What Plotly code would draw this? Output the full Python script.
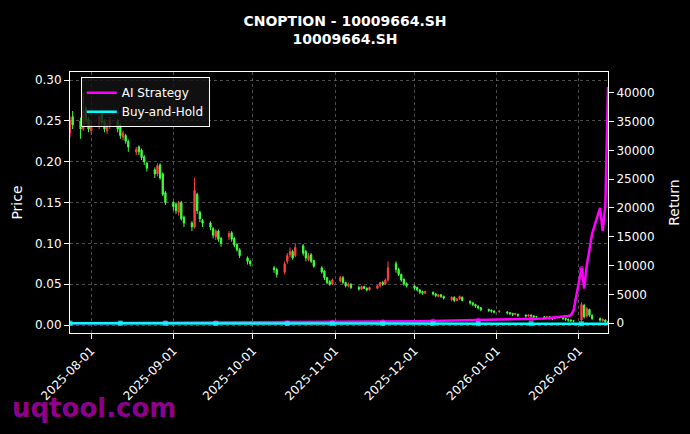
import pandas as pd
import plotly.graph_objects as go

open_ = [0.235,0.255,
 0.250,0.240,0.265,0.252,0.238, 0.245,0.258,0.250,0.238,0.243, 0.250,0.245,0.230,0.232,0.225,
 0.212,0.218,0.214,0.206,0.198, 0.190,0.185,0.196,0.185,0.162, 0.150,0.148,0.138,0.150,0.132,
 0.125,0.120,0.160,0.138,0.128, 0.125,0.118,0.108,0.115,0.106, 0.108,0.113,0.106,0.099,0.092,
 0.082,0.078, 0.070,0.068,
 0.065,0.078,0.086,0.090,0.085, 0.097,0.090,0.080,0.086,0.079, 0.070,0.066,0.058,0.053,0.050,
 0.054,0.058,0.052,0.048,0.050, 0.046,0.044,0.047,0.045,0.043, 0.045,0.048,0.052,0.050,0.055,
 0.075,0.068,0.062,0.056,0.051, 0.048,0.046,0.043,0.041,0.039, 0.040,0.038,0.035,0.037,0.035,
 0.031,0.034,0.030,0.032,0.034, 0.029,0.027,0.025,0.023,0.021,
 0.019,0.018,0.017,0.016,
 0.016,0.015,0.014,0.013,0.013, 0.012,0.011,0.012,0.011,0.010, 0.010,0.009,0.010,0.009,0.008,
 0.009,0.008,0.007,0.006,0.005, 0.006,0.024,0.011,0.019,0.012,
 0.008,0.005,0.006,0.004]
close = [0.250,0.245,
 0.240,0.262,0.250,0.240,0.245, 0.255,0.248,0.240,0.245,0.250, 0.240,0.232,0.235,0.225,0.218,
 0.215,0.212,0.205,0.200,0.192, 0.185,0.195,0.180,0.160,0.150, 0.145,0.140,0.150,0.130,0.125,
 0.120,0.165,0.140,0.130,0.125, 0.120,0.110,0.115,0.105,0.100, 0.112,0.105,0.098,0.092,0.085,
 0.078,0.075, 0.068,0.062,
 0.075,0.085,0.090,0.082,0.095, 0.088,0.082,0.085,0.078,0.072, 0.065,0.058,0.052,0.050,0.055,
 0.058,0.052,0.048,0.050,0.046, 0.044,0.047,0.045,0.043,0.046, 0.048,0.052,0.050,0.055,0.070,
 0.068,0.062,0.055,0.050,0.048, 0.045,0.043,0.040,0.039,0.041, 0.038,0.036,0.037,0.035,0.033,
 0.034,0.030,0.032,0.035,0.030, 0.027,0.025,0.023,0.021,0.019,
 0.018,0.017,0.016,0.017,
 0.015,0.014,0.013,0.014,0.012, 0.011,0.012,0.011,0.010,0.010, 0.009,0.010,0.009,0.008,0.009,
 0.008,0.007,0.006,0.005,0.005, 0.025,0.010,0.020,0.012,0.008,
 0.006,0.007,0.004,0.003]
high = [0.256,0.262,
 0.254,0.285,0.268,0.255,0.250, 0.262,0.260,0.252,0.248,0.255, 0.252,0.247,0.238,0.234,0.227,
 0.218,0.220,0.216,0.208,0.200, 0.193,0.198,0.198,0.187,0.164, 0.152,0.150,0.152,0.152,0.134,
 0.127,0.180,0.162,0.140,0.130, 0.127,0.120,0.117,0.117,0.108, 0.115,0.115,0.108,0.100,0.094,
 0.084,0.080, 0.072,0.070,
 0.078,0.088,0.095,0.092,0.100, 0.099,0.092,0.088,0.088,0.080, 0.072,0.067,0.059,0.055,0.057,
 0.060,0.060,0.053,0.052,0.051, 0.048,0.048,0.048,0.046,0.047, 0.049,0.053,0.054,0.057,0.078,
 0.078,0.070,0.063,0.057,0.052, 0.049,0.047,0.044,0.042,0.042, 0.041,0.039,0.038,0.038,0.036,
 0.035,0.035,0.033,0.036,0.035, 0.030,0.028,0.026,0.024,0.022,
 0.020,0.019,0.018,0.018,
 0.017,0.016,0.015,0.015,0.014, 0.013,0.013,0.013,0.012,0.011, 0.011,0.011,0.011,0.010,0.010,
 0.010,0.009,0.008,0.007,0.006, 0.028,0.026,0.022,0.020,0.013,
 0.009,0.008,0.007,0.005]
low = [0.230,0.240,
 0.228,0.238,0.246,0.236,0.233, 0.240,0.244,0.236,0.234,0.240, 0.236,0.228,0.226,0.222,0.212,
 0.208,0.208,0.202,0.196,0.188, 0.180,0.182,0.178,0.158,0.147, 0.140,0.136,0.134,0.128,0.120,
 0.115,0.118,0.136,0.126,0.120, 0.116,0.106,0.104,0.102,0.096, 0.104,0.102,0.095,0.090,0.082,
 0.074,0.072, 0.064,0.058,
 0.062,0.075,0.083,0.080,0.083, 0.085,0.078,0.078,0.076,0.070, 0.063,0.055,0.050,0.048,0.049,
 0.052,0.050,0.046,0.046,0.044, 0.042,0.043,0.044,0.041,0.042, 0.044,0.046,0.048,0.049,0.053,
 0.064,0.060,0.053,0.048,0.046, 0.043,0.041,0.038,0.037,0.038, 0.036,0.034,0.034,0.033,0.031,
 0.029,0.028,0.029,0.031,0.029, 0.025,0.023,0.021,0.019,0.017,
 0.016,0.015,0.014,0.015,
 0.013,0.012,0.011,0.012,0.010, 0.009,0.010,0.009,0.008,0.008, 0.007,0.008,0.007,0.006,0.007,
 0.006,0.005,0.004,0.004,0.003, 0.004,0.008,0.009,0.010,0.006,
 0.004,0.004,0.003,0.002]
ai_return = [0,2,
 3,5,4,6,8, 10,12,11,14,15, 18,20,22,24,25, 28,30,32,35,38, 40,42,45,48,52, 55,58,60,62,65,
 68,70,72,75,78, 80,82,85,88,90, 92,95,98,100,105,
 108,110, 112,115,
 118,120,124,128,130, 135,140,142,146,150, 155,160,165,170,175, 180,185,190,195,200,
 205,210,215,220,225, 230,235,240,250,260, 270,280,290,300,310, 320,330,340,350,360,
 370,380,390,400,410, 420,430,440,450,460, 470,480,490,500,510,
 520,530,540,550,
 560,580,600,620,640, 660,690,720,750,780, 820,860,900,950,1000,
 1050,1150,1250,1400,2200, 9500,6000,10000,12500,15500,
 20000,16000,20500,41000]

bdays = pd.bdate_range("2025-07-24", "2026-02-12")
holidays = pd.to_datetime(["2025-10-01","2025-10-02","2025-10-03","2025-10-06","2025-10-07","2025-10-08","2026-01-01"])
dates = [d for d in bdays if d not in holidays]
bh_return = [(c / close[0] - 1) * 100 for c in close]

msize = [5 if i % 13 == 0 else 0 for i in range(len(dates))]

fig = go.Figure()
fig.add_trace(go.Candlestick(x=dates, open=open_, high=high, low=low, close=close,
    increasing=dict(line=dict(color="#ff4040", width=1), fillcolor="#ff4040"),
    decreasing=dict(line=dict(color="#40ff40", width=1), fillcolor="#40ff40"),
    showlegend=False, whiskerwidth=0))
fig.add_trace(go.Scatter(x=dates, y=ai_return, yaxis="y2", name="AI Strategy", mode="lines+markers",
    line=dict(color="#ff00ff", width=2.5), marker=dict(size=msize, color="#ff00ff", line=dict(width=0))))
fig.add_trace(go.Scatter(x=dates, y=bh_return, yaxis="y2", name="Buy-and-Hold", mode="lines+markers",
    line=dict(color="#00ffff", width=2.5), marker=dict(size=msize, color="#00ffff", symbol="square", line=dict(width=0))))

grid = "rgba(110,110,110,0.7)"
fig.update_layout(
    width=690, height=434, paper_bgcolor="black", plot_bgcolor="black",
    font=dict(family="DejaVu Sans", color="white", size=12),
    margin=dict(l=70, r=82, t=72, b=101, autoexpand=False),
    title=dict(text="<b>CNOPTION - 10009664.SH<br>10009664.SH</b>", x=0.5, y=0.94, xanchor="center",
               yanchor="top", font=dict(size=14)),
    xaxis=dict(type="date", range=["2025-07-24", "2026-02-12"], rangeslider=dict(visible=False),
               tickformat="%Y-%m-%d", dtick="M1", tick0="2025-08-01", tickangle=-45, automargin=False,
               showgrid=True, gridcolor=grid, griddash="dot", gridwidth=0.6,
               showline=True, linecolor="white", mirror=True, ticks="outside", tickcolor="white"),
    yaxis=dict(title=dict(text="Price", standoff=8), range=[-0.0098, 0.3098], dtick=0.05, tickformat=".2f", automargin=False,
               showgrid=True, gridcolor=grid, griddash="dot", gridwidth=0.6, zeroline=False,
               showline=True, linecolor="white", mirror=True, ticks="outside", tickcolor="white"),
    yaxis2=dict(title=dict(text="Return"), overlaying="y", side="right", range=[-1709, 43590],
                dtick=5000, tickformat="d", showgrid=False, zeroline=False, automargin=False,
                ticks="outside", tickcolor="white"),
    legend=dict(x=0.02, y=0.98, xanchor="left", yanchor="top", bgcolor="rgba(20,20,20,0.8)",
                bordercolor="white", borderwidth=1, font=dict(size=12)),
)
fig.add_annotation(text="<b>uqtool.com</b>", xref="paper", yref="paper", x=-0.112, y=-0.287,
                   xanchor="left", yanchor="middle", showarrow=False,
                   font=dict(size=26, color="rgba(160,0,160,0.9)"))
fig.write_html("out.html", config={"displayModeBar": False})
with open("out.html", encoding="utf-8") as f:
    html = f.read()
html = html.replace("<body>", '<body style="margin:0">', 1)
with open("out.html", "w", encoding="utf-8") as f:
    f.write(html)
